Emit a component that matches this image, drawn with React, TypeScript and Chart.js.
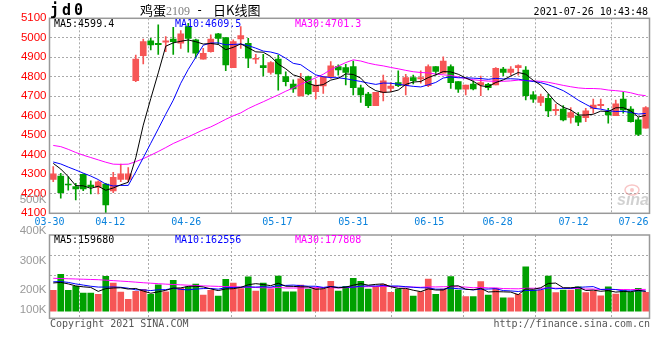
import React, { useEffect, useRef } from 'react';
import { Chart, registerables } from 'chart.js';

Chart.register(...registerables);

// ---------------- data ----------------
const dates = [
  '03-30','03-31','04-01','04-02','04-06','04-07','04-08','04-09','04-12','04-13',
  '04-14','04-15','04-16','04-19','04-20','04-21','04-22','04-23','04-26','04-27',
  '04-28','04-29','04-30','05-06','05-07','05-10','05-11','05-12','05-13','05-14',
  '05-17','05-18','05-19','05-20','05-21','05-24','05-25','05-26','05-27','05-28',
  '05-31','06-01','06-02','06-03','06-04','06-07','06-08','06-09','06-10','06-11',
  '06-15','06-16','06-17','06-18','06-21','06-22','06-23','06-24','06-25','06-28',
  '06-29','06-30','07-01','07-02','07-05','07-06','07-07','07-08','07-09','07-12',
  '07-13','07-14','07-15','07-16','07-19','07-20','07-21','07-22','07-23','07-26',
];
const axisDates = ['03-30','04-12','04-26','05-17','05-31','06-15','06-28','07-12','07-26'];

const open = [
  4274,4291,4248,4237,4300,4245,4233,4250,4215,4274,
  4274,4780,4909,4985,4972,4977,4994,4972,5057,4989,
  4890,4929,5020,5001,4847,4994,4972,4890,4857,4823,
  4891,4801,4763,4702,4801,4724,4753,4801,4852,4847,
  4852,4744,4712,4652,4720,4741,4770,4755,4796,4789,
  4755,4852,4818,4852,4775,4736,4763,4758,4762,4758,
  4840,4823,4847,4835,4707,4669,4690,4626,4635,4592,
  4599,4590,4638,4652,4621,4601,4686,4635,4579,4536,
];
const high = [
  4339,4305,4288,4254,4303,4267,4267,4254,4310,4353,
  4334,4912,4994,4997,5066,5006,5054,5037,5074,4994,
  4946,5015,5023,5001,4989,5057,4997,4915,4915,4878,
  4912,4826,4784,4818,4804,4784,4801,4878,4861,4864,
  4881,4758,4720,4720,4809,4770,4830,4813,4809,4830,
  4861,4852,4903,4861,4775,4758,4779,4804,4767,4847,
  4849,4852,4861,4852,4724,4712,4712,4659,4652,4642,
  4616,4638,4686,4686,4638,4681,4721,4647,4591,4647,
];
const low = [
  4262,4177,4219,4168,4216,4199,4199,4103,4206,4262,
  4262,4775,4866,4938,4915,4929,4915,4946,4926,4895,
  4890,4926,4967,4832,4847,4946,4847,4869,4804,4813,
  4732,4753,4720,4702,4707,4686,4715,4792,4809,4758,
  4707,4668,4642,4652,4676,4724,4750,4707,4763,4767,
  4750,4809,4818,4741,4720,4707,4733,4703,4733,4758,
  4806,4809,4809,4681,4669,4652,4596,4604,4574,4562,
  4550,4570,4613,4638,4562,4601,4613,4567,4498,4536,
];
const close = [
  4302,4206,4245,4225,4225,4237,4262,4143,4285,4302,
  4302,4891,4980,4963,4965,4984,4980,5020,4997,4921,
  4921,4994,4997,4861,4980,5011,4895,4895,4847,4873,
  4815,4775,4738,4789,4712,4758,4801,4856,4835,4823,
  4744,4707,4652,4720,4779,4753,4755,4796,4780,4796,
  4852,4827,4881,4770,4736,4758,4738,4770,4744,4844,
  4823,4840,4857,4703,4685,4698,4625,4633,4579,4616,
  4567,4625,4655,4659,4604,4661,4630,4570,4505,4642,
];
const ma5 = [
  4356,4327,4288,4242,4241,4228,4239,4218,4230,4246,
  4259,4385,4552,4688,4820,4957,4974,4982,4989,4980,
  4968,4971,4966,4939,4951,4969,4949,4928,4926,4904,
  4865,4841,4810,4798,4766,4754,4760,4783,4792,4815,
  4812,4793,4752,4729,4720,4722,4732,4761,4773,4776,
  4796,4810,4827,4825,4813,4794,4777,4754,4749,4771,
  4784,4804,4822,4813,4782,4757,4714,4669,4644,4630,
  4604,4604,4608,4624,4622,4641,4642,4625,4594,4602,
];
const ma10 = [
  4363,4353,4337,4322,4306,4291,4273,4250,4240,4243,
  4243,4312,4385,4459,4533,4608,4680,4767,4838,4900,
  4962,4973,4974,4964,4966,4968,4960,4947,4932,4927,
  4917,4895,4869,4862,4835,4810,4800,4796,4795,4790,
  4783,4776,4768,4761,4768,4767,4762,4756,4751,4748,
  4759,4771,4794,4799,4795,4795,4793,4791,4787,4792,
  4789,4790,4788,4781,4776,4770,4759,4745,4729,4706,
  4680,4659,4639,4634,4626,4622,4623,4617,4609,4612,
];
const ma30 = [
  4448,4442,4428,4412,4398,4386,4374,4362,4352,4351,
  4352,4365,4380,4398,4417,4437,4458,4475,4492,4510,
  4528,4543,4562,4582,4600,4615,4637,4655,4672,4690,
  4707,4726,4743,4762,4778,4795,4813,4837,4855,4873,
  4887,4881,4870,4862,4856,4848,4841,4833,4826,4822,
  4820,4814,4810,4807,4799,4791,4785,4781,4778,4777,
  4777,4779,4783,4780,4779,4777,4772,4764,4756,4749,
  4743,4740,4740,4738,4732,4729,4725,4718,4708,4703,
];
// volume in thousands of lots
const volume = [
  177,314,177,211,154,154,143,297,239,162,
  100,168,186,143,225,165,263,195,206,230,
  136,178,127,272,240,193,292,171,240,189,
  298,164,164,221,188,195,187,255,171,211,
  280,255,188,208,228,160,188,188,128,165,
  274,143,188,294,180,123,123,251,137,194,
  114,114,143,379,180,180,299,157,180,180,
  208,157,171,131,208,145,180,160,194,160,
];
const volMa5 = [
  240,245,232,215,207,202,168,192,197,199,
  188,193,171,152,164,177,196,198,211,212,
  206,189,175,189,191,202,225,234,227,217,
  238,212,211,207,207,186,191,209,199,204,
  221,234,221,228,232,208,194,194,178,166,
  189,180,180,213,216,186,182,194,163,166,
  164,162,140,189,186,199,236,239,199,199,
  205,176,179,169,175,162,167,165,177,168,
];
const volMa10 = [
  250,252,245,232,222,212,205,205,206,203,
  195,181,181,175,182,183,195,185,181,188,
  192,193,187,200,201,204,207,205,208,204,
  220,219,222,217,212,212,202,210,203,205,
  204,213,215,214,218,214,214,208,203,199,
  198,187,187,196,191,187,181,187,188,191,
  175,172,167,176,176,182,199,190,194,193,
  202,206,209,184,187,184,172,172,173,171,
];
const volMa30 = [
  280,278,276,274,272,270,268,264,260,256,
  252,247,242,238,234,230,227,224,221,218,
  215,213,211,209,207,205,203,201,199,198,
  202,197,197,197,198,200,201,200,197,199,
  205,208,208,210,210,210,208,207,205,203,
  207,206,208,209,207,205,199,202,198,198,
  192,191,190,195,195,194,198,195,195,194,
  192,188,188,185,185,184,184,183,185,185,
];
const volAxisLabels = ['500K', '400K', '300K', '200K', '100K'];

const titleCode = 'jd0';
const titleName = '鸡蛋';
const titleContract = '2109';
const titleDash = '-';
const titleKind = '日K线图';
const timestamp = '2021-07-26 10:43:48';
const priceMaText = ['MA5:4599.4', 'MA10:4609.5', 'MA30:4701.3'];
const volMaText = ['MA5:159680', 'MA10:162556', 'MA30:177808'];
const copyright = 'Copyright 2021 SINA.COM';
const siteUrl = 'http://finance.sina.com.cn';
const watermark = 'sina';

// ---------------- layout / style ----------------
const W = 660;
const H = 360;
const PL = 49.5;
const PR = 649.5;
const PT = 18.3;
const PB = 213.3;
const VT = 235;
const VB = 318.3;
const VOL_MIN = -62;
const VOL_MAX = 650;
const volGrid = [308, 479];
const volLabelY = [200, 231, 261, 290, 310];

const MONO = '"DejaVu Sans Mono", "Liberation Mono", monospace';
const SANS = '"Liberation Sans", Arial, sans-serif';
const CJK = '"Noto Sans CJK SC", sans-serif';
const RED = '#f65656';
const GREEN = '#00a000';
const GRID = '#aaaaaa';
const maColors = ['#000000', '#0000ff', '#ff00ff'];
const maX = [54, 175, 295];

const candleColors = close.map((c, i) => (c >= open[i] ? RED : GREEN));
const gridIdx = axisDates.map((d) => dates.indexOf(d));

function drawFrame(ctx: CanvasRenderingContext2D, ca: any) {
  ctx.save();
  ctx.strokeStyle = '#999999';
  ctx.lineWidth = 1.5;
  ctx.strokeRect(ca.left, ca.top, ca.right - ca.left, ca.bottom - ca.top);
  ctx.restore();
}

function lineDs(data: number[], color: string) {
  return {
    type: 'line' as const,
    data,
    borderColor: color,
    backgroundColor: color,
    borderWidth: 1,
    pointRadius: 0,
    tension: 0,
    fill: false,
    order: 0,
    xAxisID: 'x',
    yAxisID: 'y',
  };
}

function gridAxis(bottomSpace: number) {
  return {
    type: 'linear' as const,
    position: 'bottom' as const,
    min: 0,
    max: dates.length - 1,
    offset: false,
    afterBuildTicks: (s: any) => {
      s.ticks = gridIdx.map((v) => ({ value: v }));
    },
    ticks: { display: false },
    grid: { color: GRID, lineWidth: 1, drawTicks: false },
    border: { display: false, dash: [2, 2] },
    afterFit: (s: any) => {
      s.height = bottomSpace;
    },
  };
}

const pricePlugin = {
  id: 'priceDecor',
  afterDraw(chart: any) {
    const ctx: CanvasRenderingContext2D = chart.ctx;
    const ca = chart.chartArea;
    drawFrame(ctx, ca);
    ctx.save();
    ctx.textBaseline = 'alphabetic';
    ctx.textAlign = 'left';
    // title
    ctx.fillStyle = '#000';
    ctx.font = `bold 15px ${MONO}`;
    (ctx as any).letterSpacing = '3px';
    ctx.fillText(titleCode, 50, 15);
    (ctx as any).letterSpacing = '0px';
    ctx.font = `13px ${CJK}`;
    ctx.fillText(titleName, 140, 14.5);
    ctx.fillStyle = '#808080';
    ctx.font = `12px "Liberation Serif", serif`;
    ctx.fillText(titleContract, 166, 14.5);
    ctx.fillStyle = '#000';
    ctx.font = `12px ${MONO}`;
    ctx.fillText(titleDash, 196, 14);
    ctx.font = `13px ${CJK}`;
    ctx.fillText(titleKind, 213, 14.5);
    // timestamp
    ctx.font = `10px ${MONO}`;
    ctx.textAlign = 'right';
    ctx.fillText(timestamp, 648, 15);
    // MA legends
    ctx.textAlign = 'left';
    priceMaText.forEach((t, i) => {
      ctx.fillStyle = maColors[i];
      ctx.fillText(t, maX[i], 27);
    });
    // date labels
    const xg = chart.scales.xg;
    ctx.fillStyle = '#0a82dc';
    ctx.textAlign = 'center';
    ctx.font = `10px ${MONO}`;
    axisDates.forEach((d) => {
      const w = ctx.measureText(d).width;
      let x = xg.getPixelForValue(dates.indexOf(d));
      x = Math.min(x, ca.right - w / 2 - 1);
      ctx.fillText(d, x, 225);
    });
    // watermark
    ctx.globalAlpha = 0.45;
    ctx.strokeStyle = '#f08080';
    ctx.lineWidth = 1.5;
    ctx.beginPath();
    ctx.ellipse(632, 190, 7, 5, 0, 0, Math.PI * 2);
    ctx.stroke();
    ctx.beginPath();
    ctx.arc(632, 190, 2, 0, Math.PI * 2);
    ctx.fillStyle = '#f08080';
    ctx.fill();
    ctx.fillStyle = '#9a9a9a';
    ctx.font = `italic bold 16px ${SANS}`;
    ctx.textAlign = 'left';
    ctx.fillText(watermark, 617, 205);
    ctx.restore();
  },
};

const volPlugin = {
  id: 'volDecor',
  afterDraw(chart: any) {
    const ctx: CanvasRenderingContext2D = chart.ctx;
    const ca = chart.chartArea;
    drawFrame(ctx, ca);
    ctx.save();
    ctx.textBaseline = 'alphabetic';
    ctx.textAlign = 'left';
    ctx.font = `10px ${MONO}`;
    volMaText.forEach((t, i) => {
      ctx.fillStyle = maColors[i];
      ctx.fillText(t, maX[i], 242.5);
    });
    ctx.fillStyle = '#999999';
    ctx.textAlign = 'right';
    ctx.textBaseline = 'middle';
    ctx.font = `11.5px ${SANS}`;
    volAxisLabels.forEach((t, i) => ctx.fillText(t, ca.left - 3, volLabelY[i]));
    ctx.textBaseline = 'alphabetic';
    ctx.fillStyle = '#555555';
    ctx.font = `10px ${MONO}`;
    ctx.textAlign = 'left';
    ctx.fillText(copyright, 50, 326.5);
    ctx.textAlign = 'right';
    ctx.fillText(siteUrl, 650, 326.5);
    ctx.restore();
  },
};

function priceConfig(): any {
  return {
    type: 'bar',
    data: {
      labels: dates,
      datasets: [
        lineDs(ma5, maColors[0]),
        lineDs(ma10, maColors[1]),
        lineDs(ma30, maColors[2]),
        {
          type: 'bar',
          data: high.map((h, i) => [low[i], h]),
          backgroundColor: candleColors,
          barThickness: 1,
          grouped: false,
          order: 2,
          xAxisID: 'x',
          yAxisID: 'y',
        },
        {
          type: 'bar',
          data: open.map((o, i) => [Math.min(o, close[i]), Math.max(o, close[i])]),
          backgroundColor: candleColors,
          barThickness: 6,
          minBarLength: 1,
          grouped: false,
          order: 1,
          xAxisID: 'x',
          yAxisID: 'y',
        },
      ],
    },
    options: {
      animation: false,
      responsive: false,
      events: [],
      layout: { padding: { top: PT, right: W - PR, left: 0, bottom: 0 } },
      plugins: { legend: { display: false }, tooltip: { enabled: false } },
      scales: {
        x: { type: 'category', display: false, offset: true },
        xg: gridAxis(H - PB),
        y: {
          type: 'linear',
          position: 'left',
          min: 4100,
          max: 5100,
          ticks: {
            stepSize: 100,
            color: '#ff0000',
            padding: 3,
            font: { family: SANS, size: 11.5 },
            callback: (v: any) => String(v),
          },
          grid: { color: GRID, lineWidth: 1, drawTicks: false },
          border: { display: false, dash: [2, 2] },
          afterFit: (s: any) => {
            s.width = PL;
          },
        },
      },
    },
    plugins: [pricePlugin],
  };
}

function volConfig(): any {
  return {
    type: 'bar',
    data: {
      labels: dates,
      datasets: [
        lineDs(volMa5, maColors[0]),
        lineDs(volMa10, maColors[1]),
        lineDs(volMa30, maColors[2]),
        {
          type: 'bar',
          data: volume,
          backgroundColor: candleColors,
          barThickness: 6,
          grouped: false,
          order: 1,
          xAxisID: 'x',
          yAxisID: 'y',
        },
      ],
    },
    options: {
      animation: false,
      responsive: false,
      events: [],
      layout: { padding: { top: VT, right: W - PR, left: 0, bottom: 0 } },
      plugins: { legend: { display: false }, tooltip: { enabled: false } },
      scales: {
        x: { type: 'category', display: false, offset: true },
        xg: gridAxis(H - VB),
        y: {
          type: 'linear',
          position: 'left',
          min: VOL_MIN,
          max: VOL_MAX,
          afterBuildTicks: (s: any) => {
            s.ticks = volGrid.map((v) => ({ value: v }));
          },
          ticks: { display: false },
          grid: { color: GRID, lineWidth: 1, drawTicks: false },
          border: { display: false, dash: [2, 2] },
          afterFit: (s: any) => {
            s.width = PL;
          },
        },
      },
    },
    plugins: [volPlugin],
  };
}

export default function App() {
  const priceRef = useRef<HTMLCanvasElement>(null);
  const volRef = useRef<HTMLCanvasElement>(null);

  useEffect(() => {
    document.body.style.margin = '0';
    const c1 = new Chart(priceRef.current as HTMLCanvasElement, priceConfig());
    const c2 = new Chart(volRef.current as HTMLCanvasElement, volConfig());
    return () => {
      c1.destroy();
      c2.destroy();
    };
  }, []);

  const canvasStyle: React.CSSProperties = {
    position: 'absolute',
    left: 0,
    top: 0,
    width: W,
    height: H,
  };

  return (
    <div style={{ position: 'fixed', left: 0, top: 0, width: W, height: H, background: '#ffffff' }}>
      <canvas ref={priceRef} width={W} height={H} style={canvasStyle} />
      <canvas ref={volRef} width={W} height={H} style={canvasStyle} />
    </div>
  );
}
